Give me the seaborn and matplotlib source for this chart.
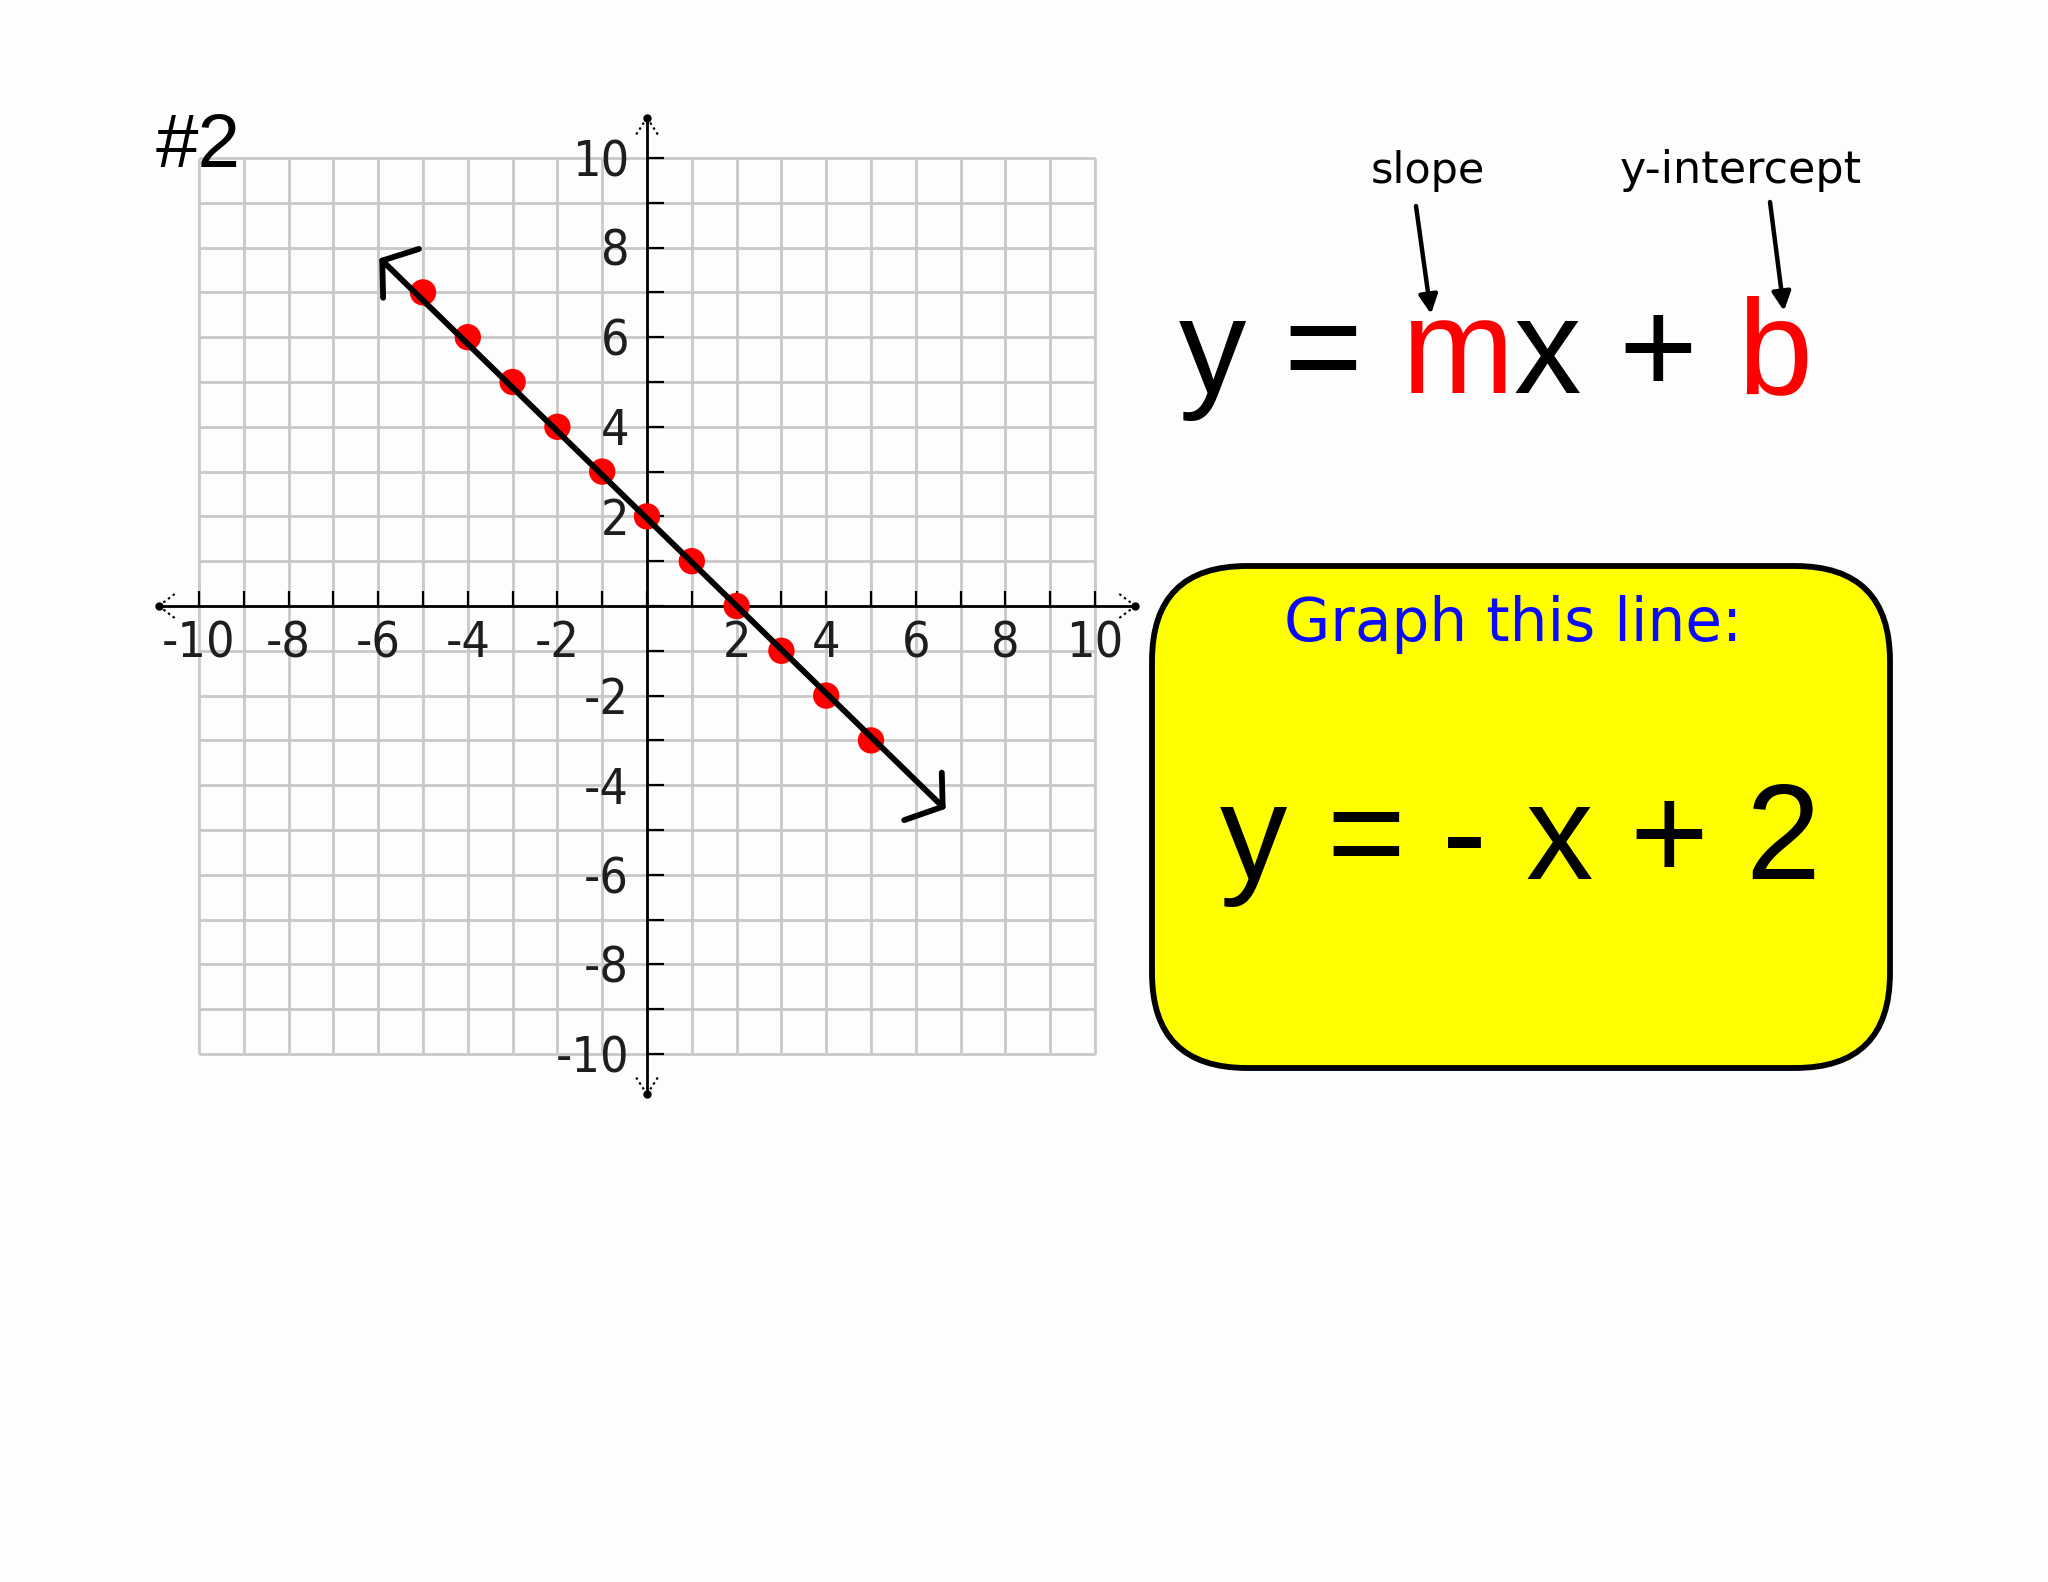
import matplotlib
matplotlib.use("Agg")
import matplotlib.pyplot as plt
import seaborn as sns
from matplotlib.patches import FancyBboxPatch, FancyArrowPatch

# ---------------- data ----------------
grid_x = list(range(-10, 11))
grid_y = list(range(-10, 11))
x_label_values = [-10, -8, -6, -4, -2, 2, 4, 6, 8, 10]
x_label_text = ["-10", "-8", "-6", "-4", "-2", "2", "4", "6", "8", "10"]
y_label_values = [10, 8, 6, 4, 2, -2, -4, -6, -8, -10]
y_label_text = ["10", "8", "6", "4", "2", "-2", "-4", "-6", "-8", "-10"]

point_x = [-5, -4, -3, -2, -1, 0, 1, 2, 3, 4, 5]
point_y = [7, 6, 5, 4, 3, 2, 1, 0, -1, -2, -3]

line_x = [-5.91, 6.60]
line_y = [7.71, -4.48]
head_up_x = [-5.09, -5.91, -5.89]
head_up_y = [7.97, 7.71, 6.88]
head_dn_x = [6.58, 6.60, 5.74]
head_dn_y = [-3.72, -4.48, -4.78]

axis_end = 10.9

eq_top_chars = ["y", "=", "m", "x", "+", "b"]
eq_top_colors = ["black", "black", "#ff0000", "black", "black", "#ff0000"]
eq_box_chars = ["y", "=", "-", "x", "+", "2"]

# ---------------- figure ----------------
sns.set_style("white")
plt.rcParams["font.family"] = ["Liberation Sans", "DejaVu Sans"]

W, H = 2048, 1582
fig = plt.figure(figsize=(W / 100, H / 100), dpi=100, facecolor="#fdfdfd")


def fx(px):
    return px / W


def fy(py):
    return 1 - py / H


ax = fig.add_axes([109.4 / W, 1 - 1143.6 / H, 1075.2 / W, 1075.2 / H])
ax.set_xlim(-12, 12)
ax.set_ylim(-12, 12)
ax.set_axis_off()
ax.patch.set_visible(False)

grid_col = "#c9c9c9"
ax.vlines(grid_x, -10, 10, color=grid_col, lw=2.0, zorder=1)
ax.hlines(grid_y, -10, 10, color=grid_col, lw=2.0, zorder=1)

# axes lines
ax.plot([-axis_end, axis_end], [0, 0], color="black", lw=2.0, zorder=3)
ax.plot([0, 0], [-axis_end, axis_end], color="black", lw=2.0, zorder=3)
ax.vlines(grid_x, 0, 0.34, color="black", lw=1.6, zorder=3)
ax.hlines(grid_y, 0, 0.38, color="black", lw=1.6, zorder=3)
ax.plot([-axis_end, axis_end, 0, 0], [0, 0, -axis_end, axis_end], "o",
        color="black", ms=5, zorder=3)
dotted = (0, (1.2, 1.6))
for sx in (-1, 1):
    for sy in (-1, 1):
        ax.plot([sx * axis_end, sx * (axis_end - 0.4)], [0, sy * 0.3],
                color="black", lw=1.5, ls=dotted, zorder=3)
        ax.plot([0, sx * 0.27], [sy * axis_end, sy * (axis_end - 0.42)],
                color="black", lw=1.5, ls=dotted, zorder=3)

# tick labels (narrow, tall digits)
lab_kw = dict(fontsize=36, family=["DejaVu Sans"], stretch="condensed",
              color="#1e1e1e", zorder=3)
for v, t in zip(x_label_values, x_label_text):
    ax.text(v, -1.14, t, ha="center", va="baseline", **lab_kw)
for v, t in zip(y_label_values, y_label_text):
    ax.text(-0.4, v - 0.41, t, ha="right", va="baseline", **lab_kw)

# red points and drawn line
sns.scatterplot(x=point_x, y=point_y, color="#ff0000", s=360,
                edgecolor="none", ax=ax, zorder=4, legend=False)
sns.lineplot(x=line_x, y=line_y, color="black", lw=4.2, ax=ax, zorder=5,
             sort=False)
ax.plot(head_up_x, head_up_y, color="black", lw=4.2, zorder=5,
        solid_capstyle="round", solid_joinstyle="round")
ax.plot(head_dn_x, head_dn_y, color="black", lw=4.2, zorder=5,
        solid_capstyle="round", solid_joinstyle="round")

# "#2"
fig.text(fx(156), fy(167), "#2", fontsize=55, ha="left", va="baseline",
         color="black")

# slope / y-intercept labels
hand_font = ["DejaVu Sans"]
fig.text(fx(1428), fy(183), "slope", fontsize=31, ha="center",
         va="baseline", family=hand_font, color="black")
fig.text(fx(1741), fy(183), "y-intercept", fontsize=32, ha="center",
         va="baseline", family=hand_font, color="black")
for (x0, y0), (x1, y1) in [((1416, 206), (1431, 314)),
                           ((1770, 202), (1784, 311))]:
    fig.add_artist(FancyArrowPatch((fx(x0), fy(y0)), (fx(x1), fy(y1)),
                                   transform=fig.transFigure,
                                   arrowstyle="-|>", mutation_scale=28,
                                   lw=3.2, color="black",
                                   shrinkA=0, shrinkB=0))

# y = mx + b
top_centers = [1212, 1323, 1457, 1547, 1658, 1775]
for ch, col, cx in zip(eq_top_chars, eq_top_colors, top_centers):
    fig.text(fx(cx), fy(393), ch, fontsize=97, ha="center",
             va="baseline", color=col)

# yellow box
bx0, by0, bx1, by1 = 1152, 566, 1890, 1068
box = FancyBboxPatch((bx0 / 100, (H - by1) / 100), (bx1 - bx0) / 100,
                     (by1 - by0) / 100,
                     boxstyle="round,pad=0,rounding_size=0.95",
                     transform=fig.dpi_scale_trans, facecolor="#ffff00",
                     edgecolor="black", lw=4.2, zorder=2)
fig.add_artist(box)

fig.text(fx(1513), fy(641), "Graph this line:", fontsize=43,
         ha="center", va="baseline", family=hand_font, color="#0a0aff",
         zorder=3)
box_centers = [1253, 1366, 1464, 1559, 1669, 1783]
for ch, cx in zip(eq_box_chars, box_centers):
    fig.text(fx(cx), fy(879), ch, fontsize=97, ha="center",
             va="baseline", color="black", zorder=3)

fig.savefig("out.png", dpi=100, facecolor=fig.get_facecolor())
